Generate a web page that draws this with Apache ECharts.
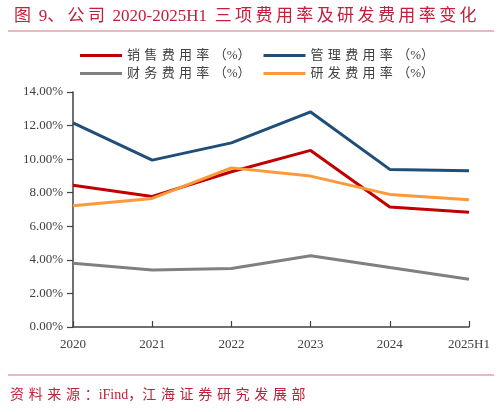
<!DOCTYPE html>
<html>
<head>
<meta charset="utf-8">
<script src="https://cdn.jsdelivr.net/npm/echarts@6/dist/echarts.min.js"></script>
<style>
  html, body { margin: 0; padding: 0; background: #fff; }
  #chart { width: 503px; height: 412px; }
</style>
</head>
<body>
<div id="chart"></div>
<script>
var years = ['2020', '2021', '2022', '2023', '2024', '2025H1'];
var salesRate = [8.44, 7.78, 9.25, 10.52, 7.15, 6.83];
var mgmtRate = [12.16, 9.94, 10.97, 12.81, 9.39, 9.31];
var finRate = [3.80, 3.40, 3.48, 4.24, 3.54, 2.85];
var rdRate = [7.23, 7.66, 9.48, 8.99, 7.90, 7.58];
var yTicks = [0, 2, 4, 6, 8, 10, 12, 14];

var serif = '"Liberation Serif", "Noto Sans CJK SC", serif';
var red = '#c0203a';

// the source uses loose character spacing, fake it with narrow spaces
function spread(s, gap) {
  return s.split('').join(gap);
}
var THIRD = '\u2004', THIN = '\u2009';

var chart = echarts.init(document.getElementById('chart'));

function line(name, data, color) {
  return {
    name: name,
    type: 'line',
    data: data,
    symbol: 'none',
    lineStyle: { width: 3, color: color },
    itemStyle: { color: color }
  };
}

var legendText = { fontFamily: serif, fontSize: 13, color: '#404040' };
var legendFmt = function (name) {
  return spread(name.replace('（%）', ''), THIRD) + THIRD + '（%）';
};

var titleText = '图' + THIN + ' 9、' + THIN + spread('公司', THIN) + THIN + ' 2020-2025H1 ' + THIN +
  spread('三项费用率及研发费用率变化', THIN);

var option = {
  backgroundColor: '#ffffff',
  animation: false,
  title: {
    text: titleText,
    left: 9,
    top: 3,
    textStyle: { fontFamily: serif, fontSize: 17, fontWeight: 'normal', color: red }
  },
  graphic: [
    { type: 'line', shape: { x1: 8, y1: 31, x2: 494, y2: 31 }, style: { stroke: '#d9707f', lineWidth: 1.2 } },
    { type: 'line', shape: { x1: 8, y1: 375, x2: 494, y2: 375 }, style: { stroke: '#d9707f', lineWidth: 1.2 } },
    {
      type: 'text', left: 10, top: 388,
      style: {
        text: spread('资料来源：', THIRD) + 'iFind，' + spread('江海证券研究发展部', THIRD),
        font: '14px ' + serif, fill: red
      }
    }
  ],
  legend: [
    {
      data: ['销售费用率（%）', '管理费用率（%）'],
      left: 75, top: 44,
      itemWidth: 42, itemHeight: 3, itemGap: 13,
      icon: 'rect',
      formatter: legendFmt,
      textStyle: legendText
    },
    {
      data: ['财务费用率（%）', '研发费用率（%）'],
      left: 75, top: 62,
      itemWidth: 42, itemHeight: 3, itemGap: 13,
      icon: 'rect',
      formatter: legendFmt,
      textStyle: legendText
    }
  ],
  grid: { left: 73, right: 34, top: 92, bottom: 85 },
  xAxis: {
    type: 'category',
    data: years,
    boundaryGap: false,
    axisLine: { lineStyle: { color: '#404040', width: 1.5 } },
    axisTick: { inside: true, length: 6, alignWithLabel: true, lineStyle: { color: '#404040', width: 1.2 } },
    axisLabel: { fontFamily: serif, fontSize: 13, color: '#404040', margin: 11 }
  },
  yAxis: {
    type: 'value',
    min: yTicks[0],
    max: yTicks[yTicks.length - 1],
    interval: 2,
    axisLine: { show: true, lineStyle: { color: '#404040', width: 1.5 } },
    axisTick: { show: true, length: 6, lineStyle: { color: '#404040', width: 1.2 } },
    splitLine: { show: false },
    axisLabel: {
      fontFamily: serif, fontSize: 13, color: '#404040', margin: 10,
      formatter: function (v) { return v.toFixed(2) + '%'; }
    }
  },
  series: [
    line('销售费用率（%）', salesRate, '#c00000'),
    line('管理费用率（%）', mgmtRate, '#1f4e79'),
    line('财务费用率（%）', finRate, '#808080'),
    line('研发费用率（%）', rdRate, '#ff9838')
  ]
};

chart.setOption(option);
</script>
</body>
</html>
